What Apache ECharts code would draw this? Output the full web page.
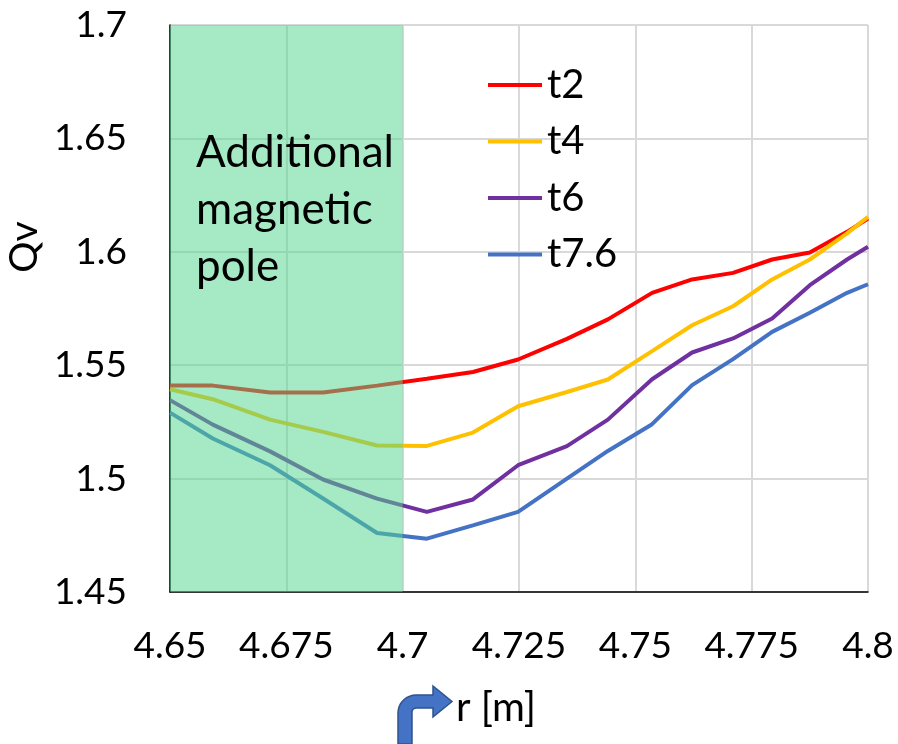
<!DOCTYPE html>
<html>
<head>
<meta charset="utf-8">
<script src="https://cdn.jsdelivr.net/npm/echarts@6/dist/echarts.min.js"></script>
<style>
  html, body { margin: 0; padding: 0; background: #fff; }
  #chart { width: 898px; height: 744px; }
</style>
</head>
<body>
<div id="chart"></div>
<script>
// Radial position r [m]
const radius = [4.65, 4.6592, 4.6715, 4.6829, 4.6945, 4.7052, 4.7151, 4.7248, 4.7353,
                4.7441, 4.7536, 4.7622, 4.7710, 4.7794, 4.7875, 4.7955, 4.8];

// Vertical tune Qv for each time step
const qvT2   = [1.541, 1.541, 1.538, 1.538, 1.541, 1.544, 1.547, 1.5525, 1.5616,
                1.5702, 1.5819, 1.5878, 1.5907, 1.5966, 1.5997, 1.6088, 1.6147];
const qvT4   = [1.5394, 1.535, 1.526, 1.5206, 1.5146, 1.5144, 1.5203, 1.5319, 1.5382,
                1.5437, 1.5562, 1.5676, 1.576, 1.5878, 1.5966, 1.6081, 1.6154];
const qvT6   = [1.5346, 1.5238, 1.512, 1.4996, 1.4912, 1.4853, 1.4908, 1.5059, 1.5143,
                1.526, 1.5438, 1.5556, 1.5618, 1.5706, 1.5853, 1.5966, 1.6022];
const qvT76  = [1.5291, 1.5177, 1.5059, 1.4912, 1.476, 1.4735, 1.4794, 1.4853, 1.5,
                1.5122, 1.524, 1.5412, 1.5527, 1.5647, 1.5731, 1.5819, 1.5857];

const seriesNames  = ['t2', 't4', 't6', 't7.6'];
const seriesValues = [qvT2, qvT4, qvT6, qvT76];
const seriesColors = ['#FF0000', '#FFC000', '#7030A0', '#4472C4'];

// Region occupied by the additional magnetic pole
const poleRange = [4.65, 4.7];

const xTicks = { min: 4.65, max: 4.8, step: 0.025 };
const yTicks = { min: 1.45, max: 1.7, step: 0.05 };

const FONT = 'Lato, "Open Sans", sans-serif';

const chart = echarts.init(document.getElementById('chart'), null, { renderer: 'canvas' });

const lineSeries = seriesNames.map((name, i) => ({
  name: name,
  type: 'line',
  data: radius.map((r, k) => [r, seriesValues[i][k]]),
  symbol: 'none',
  smooth: false,
  lineStyle: { color: seriesColors[i], width: 4 },
  itemStyle: { color: seriesColors[i] },
  z: 2
}));

// Translucent band drawn above the curves
const poleSeries = {
  name: 'pole',
  type: 'line',
  data: [],
  z: 10,
  markArea: {
    z: 10,
    silent: true,
    itemStyle: { color: 'rgba(83,212,143,0.52)' },
    data: [[{ xAxis: poleRange[0] }, { xAxis: poleRange[1] }]]
  }
};

// Outline of the bent arrow beside the axis title
function bentArrowPoints() {
  const pts = [[398, 744], [398, 713]];
  for (let a = 180; a <= 270; a += 10) {
    const t = a * Math.PI / 180;
    pts.push([416 + 18 * Math.cos(t), 713 + 18 * Math.sin(t)]);
  }
  pts.push([433, 695], [433, 686], [452, 701.5], [433, 717], [433, 708]);
  for (let a = 270; a >= 180; a -= 15) {
    const t = a * Math.PI / 180;
    pts.push([416 + 4 * Math.cos(t), 712 + 4 * Math.sin(t)]);
  }
  pts.push([412, 744]);
  return pts;
}

const option = {
  backgroundColor: '#ffffff',
  animation: false,
  grid: { left: 170, right: 30, top: 25, bottom: 152, containLabel: false },
  xAxis: {
    type: 'value',
    min: xTicks.min,
    max: xTicks.max,
    interval: xTicks.step,
    axisLine: { show: true, onZero: false, lineStyle: { color: '#000', width: 1.5 } },
    axisTick: { show: false },
    axisLabel: {
      color: '#000', fontSize: 37, fontFamily: FONT, margin: 36,
      formatter: v => String(parseFloat(v.toFixed(3)))
    },
    splitLine: { show: true, lineStyle: { color: '#D9D9D9', width: 2 } }
  },
  yAxis: {
    type: 'value',
    min: yTicks.min,
    max: yTicks.max,
    interval: yTicks.step,
    axisLine: { show: true, onZero: false, lineStyle: { color: '#000', width: 1.5 } },
    axisTick: { show: false },
    axisLabel: {
      color: '#000', fontSize: 37, fontFamily: FONT, margin: 43,
      formatter: v => String(parseFloat(v.toFixed(3)))
    },
    splitLine: { show: true, lineStyle: { color: '#D9D9D9', width: 2 } }
  },
  legend: {
    data: seriesNames,
    orient: 'vertical',
    left: 488,
    top: 65,
    padding: 0,
    itemWidth: 54,
    itemHeight: 40,
    itemGap: 16.5,
    icon: 'path://M0,13 L54,13 L54,17 L0,17 Z',
    textStyle: { color: '#000', fontSize: 40, fontFamily: FONT }
  },
  graphic: [
    {
      type: 'text', x: 196, y: 124, z: 20,
      style: {
        text: 'Additional\nmagnetic\npole',
        fill: '#000', font: '44px ' + FONT, lineHeight: 57
      }
    },
    {
      type: 'text', x: 24, y: 247, rotation: Math.PI / 2, z: 20,
      style: {
        text: 'Qv', fill: '#000', font: '39px ' + FONT,
        textAlign: 'center', textVerticalAlign: 'middle'
      }
    },
    {
      type: 'text', x: 456, y: 708, z: 20,
      style: {
        text: 'r [m]', fill: '#000', font: '40px ' + FONT,
        textAlign: 'left', textVerticalAlign: 'middle'
      }
    },
    {
      type: 'polygon', z: 20,
      shape: { points: bentArrowPoints() },
      style: { fill: '#4472C4', stroke: '#2F528F', lineWidth: 1.5 }
    }
  ],
  series: lineSeries.concat([poleSeries])
};

chart.setOption(option);
</script>
</body>
</html>
